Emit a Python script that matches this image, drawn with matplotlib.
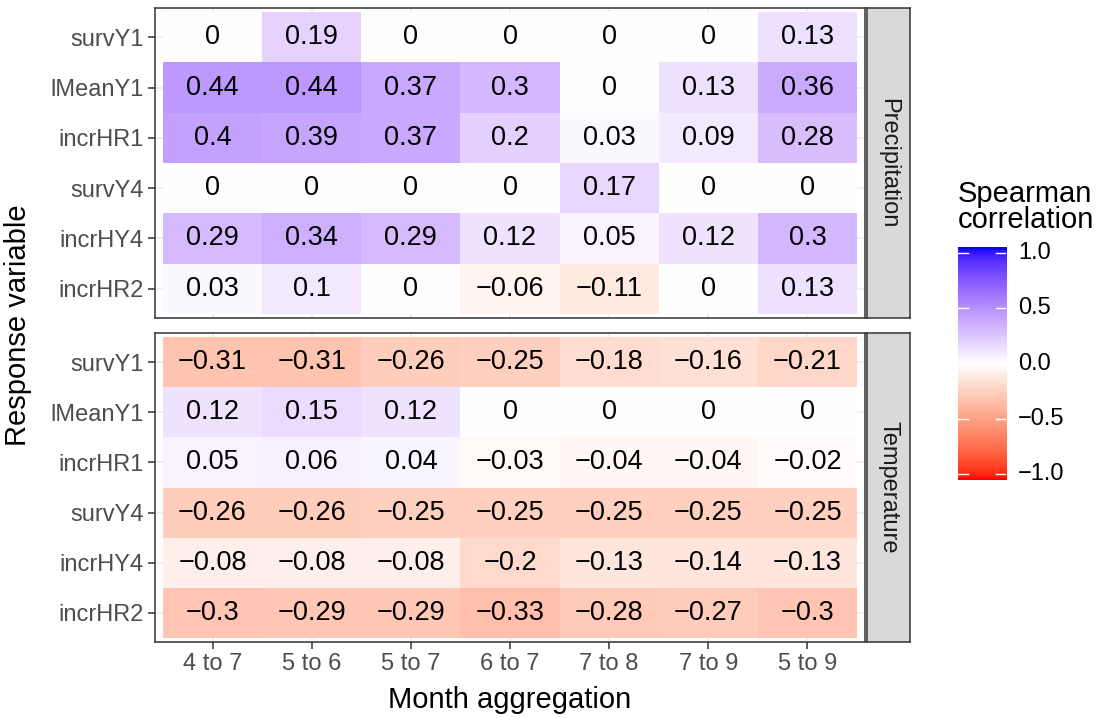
import numpy as np
import matplotlib
matplotlib.use("Agg")
import matplotlib.pyplot as plt
from matplotlib.colors import ListedColormap, Normalize

plt.rcParams['font.family'] = ['Liberation Sans', 'DejaVu Sans']

months = ["4 to 7", "5 to 6", "5 to 7", "6 to 7", "7 to 8", "7 to 9", "5 to 9"]
responses = ["survY1", "lMeanY1", "incrHR1", "survY4", "incrHY4", "incrHR2"]
facets = ["Precipitation", "Temperature"]

precip = [
    [0, 0.19, 0, 0, 0, 0, 0.13],
    [0.44, 0.44, 0.37, 0.3, 0, 0.13, 0.36],
    [0.4, 0.39, 0.37, 0.2, 0.03, 0.09, 0.28],
    [0, 0, 0, 0, 0.17, 0, 0],
    [0.29, 0.34, 0.29, 0.12, 0.05, 0.12, 0.3],
    [0.03, 0.1, 0, -0.06, -0.11, 0, 0.13],
]
temp = [
    [-0.31, -0.31, -0.26, -0.25, -0.18, -0.16, -0.21],
    [0.12, 0.15, 0.12, 0, 0, 0, 0],
    [0.05, 0.06, 0.04, -0.03, -0.04, -0.04, -0.02],
    [-0.26, -0.26, -0.25, -0.25, -0.25, -0.25, -0.25],
    [-0.08, -0.08, -0.08, -0.2, -0.13, -0.14, -0.13],
    [-0.3, -0.29, -0.29, -0.33, -0.28, -0.27, -0.3],
]


# gradient red - white - blue interpolated in Lab, like ggplot
def srgb_to_lab(c):
    c = np.asarray(c, float)
    lin = np.where(c <= 0.04045, c / 12.92, ((c + 0.055) / 1.055) ** 2.4)
    M = np.array([[0.4124, 0.3576, 0.1805],
                  [0.2126, 0.7152, 0.0722],
                  [0.0193, 0.1192, 0.9505]])
    xyz = M @ lin / np.array([0.95047, 1.0, 1.08883])
    f = np.where(xyz > 0.008856, np.cbrt(xyz), 7.787 * xyz + 16 / 116)
    return np.array([116 * f[1] - 16, 500 * (f[0] - f[1]), 200 * (f[1] - f[2])])


def lab_to_srgb(lab):
    L, a, b = lab
    fy = (L + 16) / 116
    fx = fy + a / 500
    fz = fy - b / 200
    f = np.array([fx, fy, fz])
    xyz = np.where(f ** 3 > 0.008856, f ** 3, (f - 16 / 116) / 7.787)
    xyz = xyz * np.array([0.95047, 1.0, 1.08883])
    Minv = np.array([[3.2406, -1.5372, -0.4986],
                     [-0.9689, 1.8758, 0.0415],
                     [0.0557, -0.2040, 1.0570]])
    lin = Minv @ xyz
    lin = np.clip(lin, 0, 1)
    c = np.where(lin <= 0.0031308, 12.92 * lin, 1.055 * lin ** (1 / 2.4) - 0.055)
    return np.clip(c, 0, 1)


red = srgb_to_lab([1, 0, 0])
white = srgb_to_lab([1, 1, 1])
blue = srgb_to_lab([0, 0, 1])
cols = []
for t in np.linspace(-1, 1, 256):
    if t < 0:
        lab = white + (red - white) * (-t)
    else:
        lab = white + (blue - white) * t
    cols.append(lab_to_srgb(lab))
cmap = ListedColormap(cols)
norm = Normalize(-1, 1)

W, H = 1100, 718
fig = plt.figure(figsize=(W / 100, H / 100), dpi=100)


def px(x0, y0, x1, y1):
    return [x0 / W, 1 - y1 / H, (x1 - x0) / W, (y1 - y0) / H]


panels = [(8, 318), (333, 642)]
for k, (data, name) in enumerate(zip([precip, temp], facets)):
    y0, y1 = panels[k]
    ax = fig.add_axes(px(155, y0, 865, y1))
    arr = np.array(data)
    nr, nc = arr.shape
    xs = np.arange(nc + 1) - 0.5
    ys = np.arange(nr + 1) - 0.5
    for i in range(nc):
        ax.axvline(i, color="#EBEBEB", lw=1.1, zorder=0)
    for j in range(nr):
        ax.axhline(j, color="#EBEBEB", lw=1.1, zorder=0)
    ax.pcolormesh(xs, ys, arr, cmap=cmap, norm=norm, zorder=1)
    for j in range(nr):
        for i in range(nc):
            v = arr[j, i]
            s = ("%g" % v).replace("-", "\u2212")
            ax.text(i, j, s, ha="center", va="center", fontsize=19.5, color="black", zorder=2)
    ax.set_xlim(-0.58, nc - 0.42)
    ax.set_ylim(nr - 0.42, -0.58)
    ax.set_yticks(range(nr))
    ax.set_yticklabels(responses)
    ax.set_xticks(range(nc))
    ax.tick_params(labelsize=17, colors="#333333", labelcolor="#4D4D4D", width=1.1, length=5, pad=3)
    if k == 1:
        ax.set_xticklabels(months)
    else:
        ax.set_xticklabels([])
        ax.tick_params(axis="x", length=0)
    for sp in ax.spines.values():
        sp.set_color("#333333")
        sp.set_linewidth(1.1)

    # facet strip
    sax = fig.add_axes(px(867, y0, 910, y1))
    sax.set_facecolor("#D9D9D9")
    sax.set_xticks([])
    sax.set_yticks([])
    for sp in sax.spines.values():
        sp.set_color("#333333")
        sp.set_linewidth(1.1)
    sax.text(0.5, 0.5, name, rotation=-90, ha="center", va="center",
             fontsize=17, color="#1A1A1A", transform=sax.transAxes)

fig.text(18 / W, 1 - 325 / H, "Response variable", rotation=90, ha="center", va="center", fontsize=21)
fig.text(510 / W, 1 - 700 / H, "Month aggregation", ha="center", va="center", fontsize=21)

# colour bar
cax = fig.add_axes(px(958, 247, 1006, 480))
grad = np.linspace(-1, 1, 300).reshape(-1, 1)
cax.imshow(grad, cmap=cmap, norm=norm, aspect="auto", origin="lower",
           extent=[0, 1, -1.054, 1.054])
cax.set_xlim(0, 1)
cax.set_ylim(-1.054, 1.054)
for v in [-1, -0.5, 0, 0.5, 1]:
    cax.plot([0, 0.2], [v, v], color="white", lw=1)
    cax.plot([0.8, 1], [v, v], color="white", lw=1)
    cax.text(1.25, v, ("%.1f" % v).replace("-", "\u2212"), ha="left", va="center",
             fontsize=17, color="black")
cax.set_xticks([])
cax.set_yticks([])
for sp in cax.spines.values():
    sp.set_visible(False)
fig.text(958 / W, 1 - 202 / H, "Spearman", ha="left", va="baseline", fontsize=21)
fig.text(958 / W, 1 - 228 / H, "correlation", ha="left", va="baseline", fontsize=21)

fig.savefig("out.png", dpi=100)
